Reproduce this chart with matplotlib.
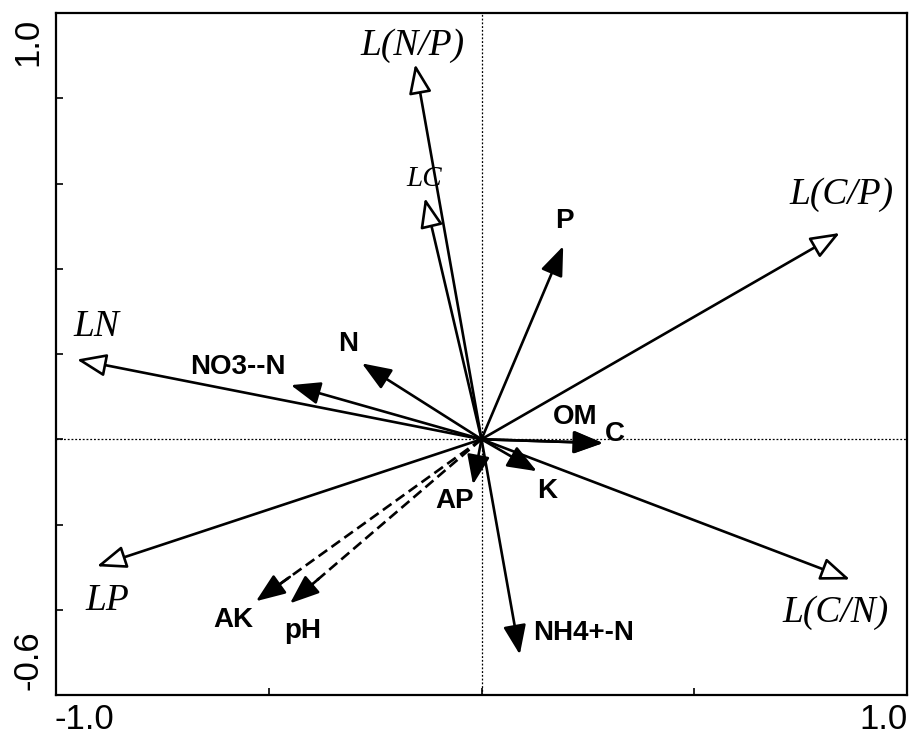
import matplotlib
matplotlib.use("Agg")
import matplotlib.pyplot as plt

# explanatory (litter) variables - open arrow heads
env_names = ["LN", "LP", "LC", "L(N/P)", "L(C/P)", "L(C/N)"]
env_x = [-0.951, -0.904, -0.133, -0.156, 0.842, 0.866]
env_y = [0.187, -0.298, 0.566, 0.880, 0.484, -0.329]

# soil variables - filled arrow heads
soil_names = ["P", "N", "NO3--N", "OM", "C", "K", "AP", "NH4+-N", "AK", "pH"]
soil_x = [0.192, -0.281, -0.448, 0.284, 0.286, 0.130, -0.020, 0.090, -0.530, -0.450]
soil_y = [0.453, 0.178, 0.127, -0.009, -0.009, -0.075, -0.106, -0.505, -0.380, -0.385]
dashed = ["AK", "pH"]

# label positions (layout)
env_lab = {"LN": (-0.904, 0.263), "LP": (-0.880, -0.380), "LC": (-0.135, 0.610),
           "L(N/P)": (-0.163, 0.923), "L(C/P)": (0.847, 0.573), "L(C/N)": (0.831, -0.408)}
soil_lab = {"P": (0.196, 0.512), "N": (-0.314, 0.223), "NO3--N": (-0.572, 0.169),
            "OM": (0.220, 0.052), "C": (0.314, 0.012), "K": (0.154, -0.122),
            "AP": (-0.062, -0.146), "NH4+-N": (0.239, -0.455),
            "AK": (-0.584, -0.423), "pH": (-0.419, -0.451)}

fig = plt.figure(figsize=(9.11, 7.38), dpi=100)
ax = fig.add_axes([56 / 911, 43 / 738, 851 / 911, 682 / 738])
ax.set_xlim(-1.0, 1.0)
ax.set_ylim(-0.6, 1.0)

ax.axhline(0, color="k", ls=(0, (1.5, 1.5)), lw=0.9)
ax.axvline(0, color="k", ls=(0, (1.5, 1.5)), lw=0.9)

head = "-|>,head_length=0.9,head_width=0.35"
lw = 1.9

for name, x, y in zip(env_names, env_x, env_y):
    ax.annotate("", xy=(x, y), xytext=(0, 0),
                arrowprops=dict(arrowstyle=head, mutation_scale=20, lw=lw,
                                ec="k", fc="w", shrinkA=0, shrinkB=0))
    lx, ly = env_lab[name]
    fs = 21 if name == "LC" else 27
    ax.text(lx, ly, name, family="Liberation Serif", style="italic",
            fontsize=fs, ha="center", va="center")

for name, x, y in zip(soil_names, soil_x, soil_y):
    if name in dashed:
        ax.plot([0, x * 0.9], [0, y * 0.9], color="k", lw=lw, ls=(0, (4, 2)))
        ax.annotate("", xy=(x, y), xytext=(x * 0.85, y * 0.85),
                    arrowprops=dict(arrowstyle=head, mutation_scale=20, lw=lw,
                                    color="k", shrinkA=0, shrinkB=0))
    else:
        ax.annotate("", xy=(x, y), xytext=(0, 0),
                    arrowprops=dict(arrowstyle=head, mutation_scale=20, lw=lw,
                                    color="k", shrinkA=0, shrinkB=0))
    lx, ly = soil_lab[name]
    ax.text(lx, ly, name, family="Liberation Sans", weight="bold",
            fontsize=20, ha="center", va="center")

ax.set_xticks([-0.5, 0, 0.5])
ax.set_yticks([-0.4, -0.2, 0, 0.2, 0.4, 0.6, 0.8])
ax.set_xticklabels([])
ax.set_yticklabels([])
ax.tick_params(direction="in", length=5, width=1.2, top=False, right=False)
for s in ax.spines.values():
    s.set_linewidth(1.6)

tf = dict(family="Liberation Sans", fontsize=25)
fig.text(55 / 911, 2 / 738, "-1.0", ha="left", va="bottom", **tf)
fig.text(908 / 911, 2 / 738, "1.0", ha="right", va="bottom", **tf)
fig.text(28 / 911, 1 - 18 / 738, "1.0", ha="center", va="top", rotation=90, **tf)
fig.text(28 / 911, 1 - 690 / 738, "-0.6", ha="center", va="bottom", rotation=90, **tf)

fig.savefig("out.png", dpi=100)
